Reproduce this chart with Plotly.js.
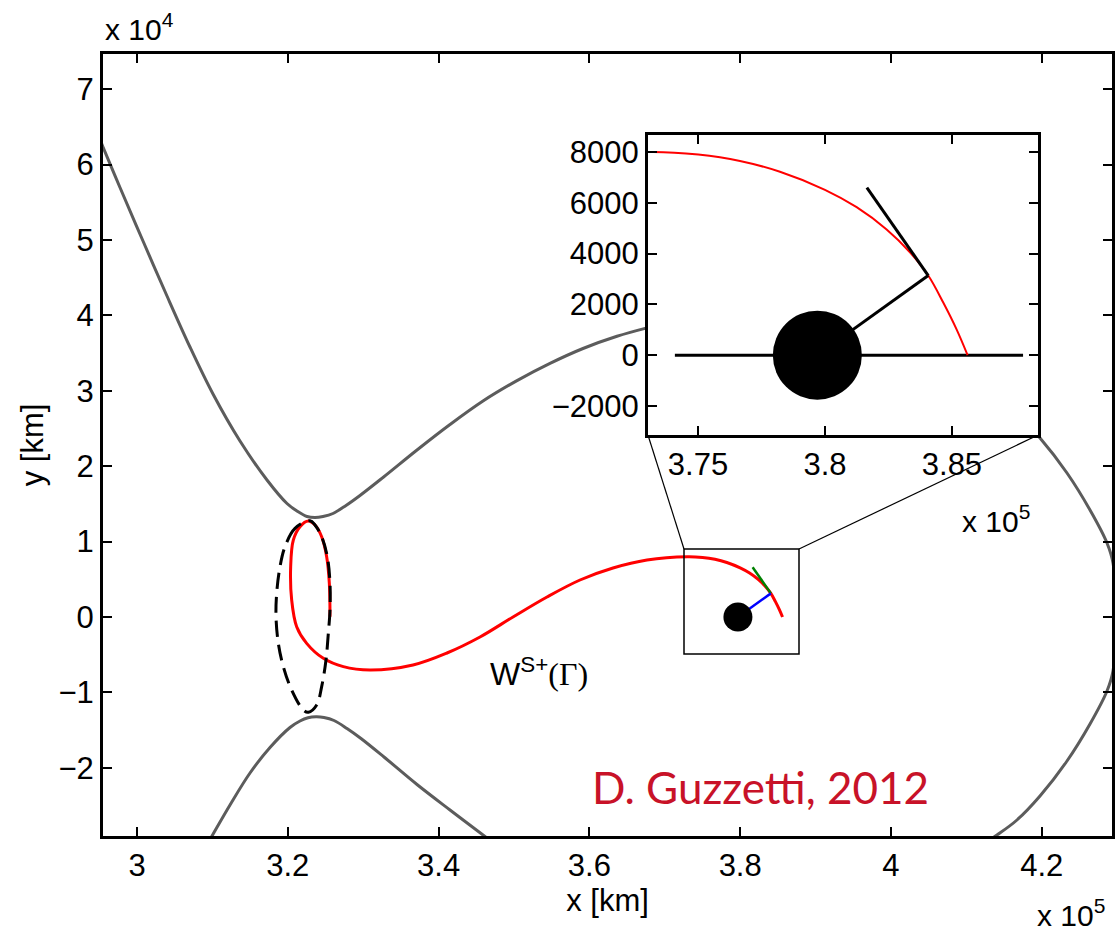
<!DOCTYPE html>
<html><head><meta charset="utf-8">
<script src="https://cdn.plot.ly/plotly-3.0.1.min.js"></script>
<style>html,body{margin:0;padding:0;background:#fff}#chart{width:1117px;height:933px}</style>
</head><body><div id="chart"></div>
<script>
// ---------- tick values / labels ----------
const mainXTicks = [300000, 320000, 340000, 360000, 380000, 400000, 420000];
const mainXTickText = ['3', '3.2', '3.4', '3.6', '3.8', '4', '4.2'];
const mainYTicks = [-20000, -10000, 0, 10000, 20000, 30000, 40000, 50000, 60000, 70000];
const mainYTickText = ['\u22122', '\u22121', '0', '1', '2', '3', '4', '5', '6', '7'];
const insetXTicks = [375000, 380000, 385000];
const insetXTickText = ['3.75', '3.8', '3.85'];
const insetYTicks = [-2000, 0, 2000, 4000, 6000, 8000];
const insetYTickText = ['\u22122000', '0', '2000', '4000', '6000', '8000'];

// ---------- zero-velocity curves (km) ----------
const zvcUpperLeftX = [295225, 295491, 297745, 300796, 303979, 307029, 310080, 313661, 317242, 319895, 321221, 322547, 323608, 324669, 325995, 327719, 329576, 332627, 337136, 341513, 345890, 350399, 354776, 359153, 363662, 367641, 372018];
const zvcUpperLeftY = [63000, 62336, 56966, 49869, 42574, 35810, 29576, 23343, 18170, 15054, 14059, 13329, 13197, 13329, 13727, 14788, 16115, 18502, 22149, 25531, 28648, 31354, 33635, 35611, 37229, 38343, 39391];
const zvcLowerLeftX = [309019, 309947, 312335, 314987, 317640, 320292, 321619, 322680, 323741, 324802, 326128, 327852, 329709, 332760, 337136, 341513, 345890, 347482];
const zvcLowerLeftY = [-30638, -29046, -24934, -20690, -17308, -14656, -13794, -13369, -13236, -13329, -13727, -14788, -16115, -18569, -22216, -25598, -28913, -30107];
const zvcRightX = [414060, 416713, 419764, 423346, 426396, 428651, 429446, 429844, 429446, 428651, 426396, 423346, 419764, 416713, 414060, 412470];
const zvcRightY = [28913, 26924, 23741, 19099, 14191, 9815, 7162, 0, -7162, -9815, -14191, -19099, -23741, -26924, -28913, -29974];

// ---------- Lyapunov orbit around L1 (dashed) ----------
const lyapX = [322945, 320956, 319630, 318967, 318525, 318436, 318746, 319409, 320514, 322061, 322724, 323829, 324492, 325067, 325376, 325597, 325597, 325244, 324492, 323608, 322945];
const lyapY = [12777, 11760, 9329, 6676, 3139, 40, -3492, -6587, -9682, -12335, -12644, -11672, -9240, -5703, -2167, 928, 4465, 7993, 10646, 12202, 12777];

// ---------- stable manifold trajectory W^{S+}(Γ) ----------
const trajX = [325597, 325509, 325155, 324492, 323608, 322724, 321619, 320735, 320382, 320514, 321177, 322503, 324714, 327366, 330902, 336606, 341115, 345492, 349869, 354378, 358755, 363132, 367642, 373043, 375012, 376654, 378228, 380000, 381247, 382428, 383346, 384067, 384657, 385182, 385615];
const trajY = [40, 4465, 7993, 10646, 12202, 12733, 11981, 10213, 6676, 2255, -1282, -3492, -5482, -6587, -7029, -6366, -4775, -2653, 0, 2653, 4907, 6499, 7560, 7997, 7898, 7649, 7223, 6513, 5827, 4951, 4052, 3136, 2071, 1014, 0];

// ---------- Moon and local vectors ----------
const moonX = [379700];
const moonY = [0];
const tangentX = [381650, 384067];
const tangentY = [6600, 3136];
const radialX = [379700, 384067];
const radialY = [0, 3136];
const axisLineX = [374090, 387800];
const axisLineY = [0, 0];

// ---------- zoom box (main axes) and inset ranges ----------
const zoomBoxX = [372549, 387801];
const zoomBoxY = [-4907, 9019];
const mainXRange = [295491, 429314];
const mainYRange = [-29046, 74671];
const insetXRange = [373030, 388390];
const insetYRange = [-3144, 8670];
const insetXDomain = [0.5401, 0.9267];
const insetYDomain = [0.5128, 0.8964];

const FONT = 'Liberation Sans, Arial, Helvetica, sans-serif';
const GRAY = 'rgb(92,92,92)';

const traces = [
  {x: zvcUpperLeftX, y: zvcUpperLeftY, xaxis: 'x', yaxis: 'y', mode: 'lines', line: {color: GRAY, width: 3, shape: 'spline', smoothing: 1}},
  {x: zvcLowerLeftX, y: zvcLowerLeftY, xaxis: 'x', yaxis: 'y', mode: 'lines', line: {color: GRAY, width: 3, shape: 'spline', smoothing: 1}},
  {x: zvcRightX, y: zvcRightY, xaxis: 'x', yaxis: 'y', mode: 'lines', line: {color: GRAY, width: 3, shape: 'spline', smoothing: 1}},
  {x: trajX, y: trajY, xaxis: 'x', yaxis: 'y', mode: 'lines', line: {color: '#ff0000', width: 3, shape: 'spline', smoothing: 1}},
  {x: lyapX, y: lyapY, xaxis: 'x', yaxis: 'y', mode: 'lines', line: {color: '#000', width: 3, dash: '16px,8px', shape: 'spline'}},
  {x: tangentX, y: tangentY, xaxis: 'x', yaxis: 'y', mode: 'lines', line: {color: 'rgb(0,128,0)', width: 2.5}},
  {x: radialX, y: radialY, xaxis: 'x', yaxis: 'y', mode: 'lines', line: {color: '#0000ff', width: 2.5}},
  {x: moonX, y: moonY, xaxis: 'x', yaxis: 'y', mode: 'markers', marker: {color: '#000', size: 29}},
  // inset
  {x: axisLineX, y: axisLineY, xaxis: 'x2', yaxis: 'y2', mode: 'lines', line: {color: '#000', width: 3}},
  {x: trajX, y: trajY, xaxis: 'x2', yaxis: 'y2', mode: 'lines', line: {color: '#ff0000', width: 2, shape: 'spline', smoothing: 1}},
  {x: tangentX, y: tangentY, xaxis: 'x2', yaxis: 'y2', mode: 'lines', line: {color: '#000', width: 3}},
  {x: radialX, y: radialY, xaxis: 'x2', yaxis: 'y2', mode: 'lines', line: {color: '#000', width: 3}},
  {x: moonX, y: moonY, xaxis: 'x2', yaxis: 'y2', mode: 'markers', marker: {color: '#000', size: 89}}
];

function axisStyle(extra) {
  return Object.assign({
    showgrid: false, zeroline: false, showline: true, linecolor: '#000', linewidth: 3,
    mirror: 'ticks', ticks: 'inside', ticklen: 9, tickwidth: 2, tickcolor: '#000',
    tickmode: 'array', tickfont: {family: FONT, size: 31, color: '#000'}, fixedrange: true
  }, extra);
}

// inset bottom corners expressed in main-axis data coordinates
const mx = d => mainXRange[0] + d * (mainXRange[1] - mainXRange[0]);
const my = d => mainYRange[0] + d * (mainYRange[1] - mainYRange[0]);

const layout = {
  width: 1117, height: 933,
  margin: {l: 103, r: 5, t: 54, b: 97},
  paper_bgcolor: '#ffffff', plot_bgcolor: 'rgba(255,255,255,0.999)',
  showlegend: false,
  xaxis: axisStyle({range: mainXRange, domain: [0, 1], anchor: 'y', tickvals: mainXTicks, ticktext: mainXTickText,
    title: {text: 'x [km]', font: {family: FONT, size: 31, color: '#000'}, standoff: 8}}),
  yaxis: axisStyle({range: mainYRange, domain: [0, 1], anchor: 'x', tickvals: mainYTicks, ticktext: mainYTickText,
    title: {text: 'y [km]', font: {family: FONT, size: 31, color: '#000'}, standoff: 6}}),
  xaxis2: axisStyle({range: insetXRange, domain: insetXDomain, anchor: 'y2', tickvals: insetXTicks, ticktext: insetXTickText}),
  yaxis2: axisStyle({range: insetYRange, domain: insetYDomain, anchor: 'x2', tickvals: insetYTicks, ticktext: insetYTickText}),
  shapes: [
    {type: 'rect', xref: 'x', yref: 'y', x0: zoomBoxX[0], x1: zoomBoxX[1], y0: zoomBoxY[0], y1: zoomBoxY[1],
     line: {color: '#000', width: 1.5}, layer: 'above'},
    {type: 'line', xref: 'x', yref: 'y', x0: zoomBoxX[0], y0: zoomBoxY[1], x1: mx(insetXDomain[0]), y1: my(insetYDomain[0]),
     line: {color: '#000', width: 1.2}, layer: 'below'},
    {type: 'line', xref: 'x', yref: 'y', x0: zoomBoxX[1], y0: zoomBoxY[1], x1: mx(insetXDomain[1]), y1: my(insetYDomain[0]),
     line: {color: '#000', width: 1.2}, layer: 'below'}
  ],
  annotations: [
    {xref: 'paper', yref: 'paper', x: 0, y: 1.035, xanchor: 'left', yanchor: 'middle', showarrow: false,
     text: 'x 10<sup>4</sup>', font: {family: FONT, size: 30, color: '#000'}},
    {xref: 'paper', yref: 'paper', x: 0.9237, y: -0.098, xanchor: 'left', yanchor: 'middle', showarrow: false,
     text: 'x 10<sup>5</sup>', font: {family: FONT, size: 30, color: '#000'}},
    {xref: 'paper', yref: 'paper', x: 0.8494, y: 0.405, xanchor: 'left', yanchor: 'middle', showarrow: false,
     text: 'x 10<sup>5</sup>', font: {family: FONT, size: 30, color: '#000'}},
    {xref: 'x', yref: 'y', x: 353300, y: -7300, xanchor: 'center', yanchor: 'middle', showarrow: false,
     text: 'W<sup>S+</sup><span style="font-family:Liberation Serif">(\u0393)</span>', font: {family: FONT, size: 32, color: '#000'}},
    {xref: 'paper', yref: 'paper', x: 0.652, y: 0.0627, xanchor: 'center', yanchor: 'middle', showarrow: false,
     text: 'D. Guzzetti, 2012', font: {family: 'Lato, Noto Sans, sans-serif', size: 44, color: 'rgb(200,18,40)'}}
  ]
};

Plotly.newPlot('chart', traces, layout, {staticPlot: true, displayModeBar: false});
</script>
</body></html>
